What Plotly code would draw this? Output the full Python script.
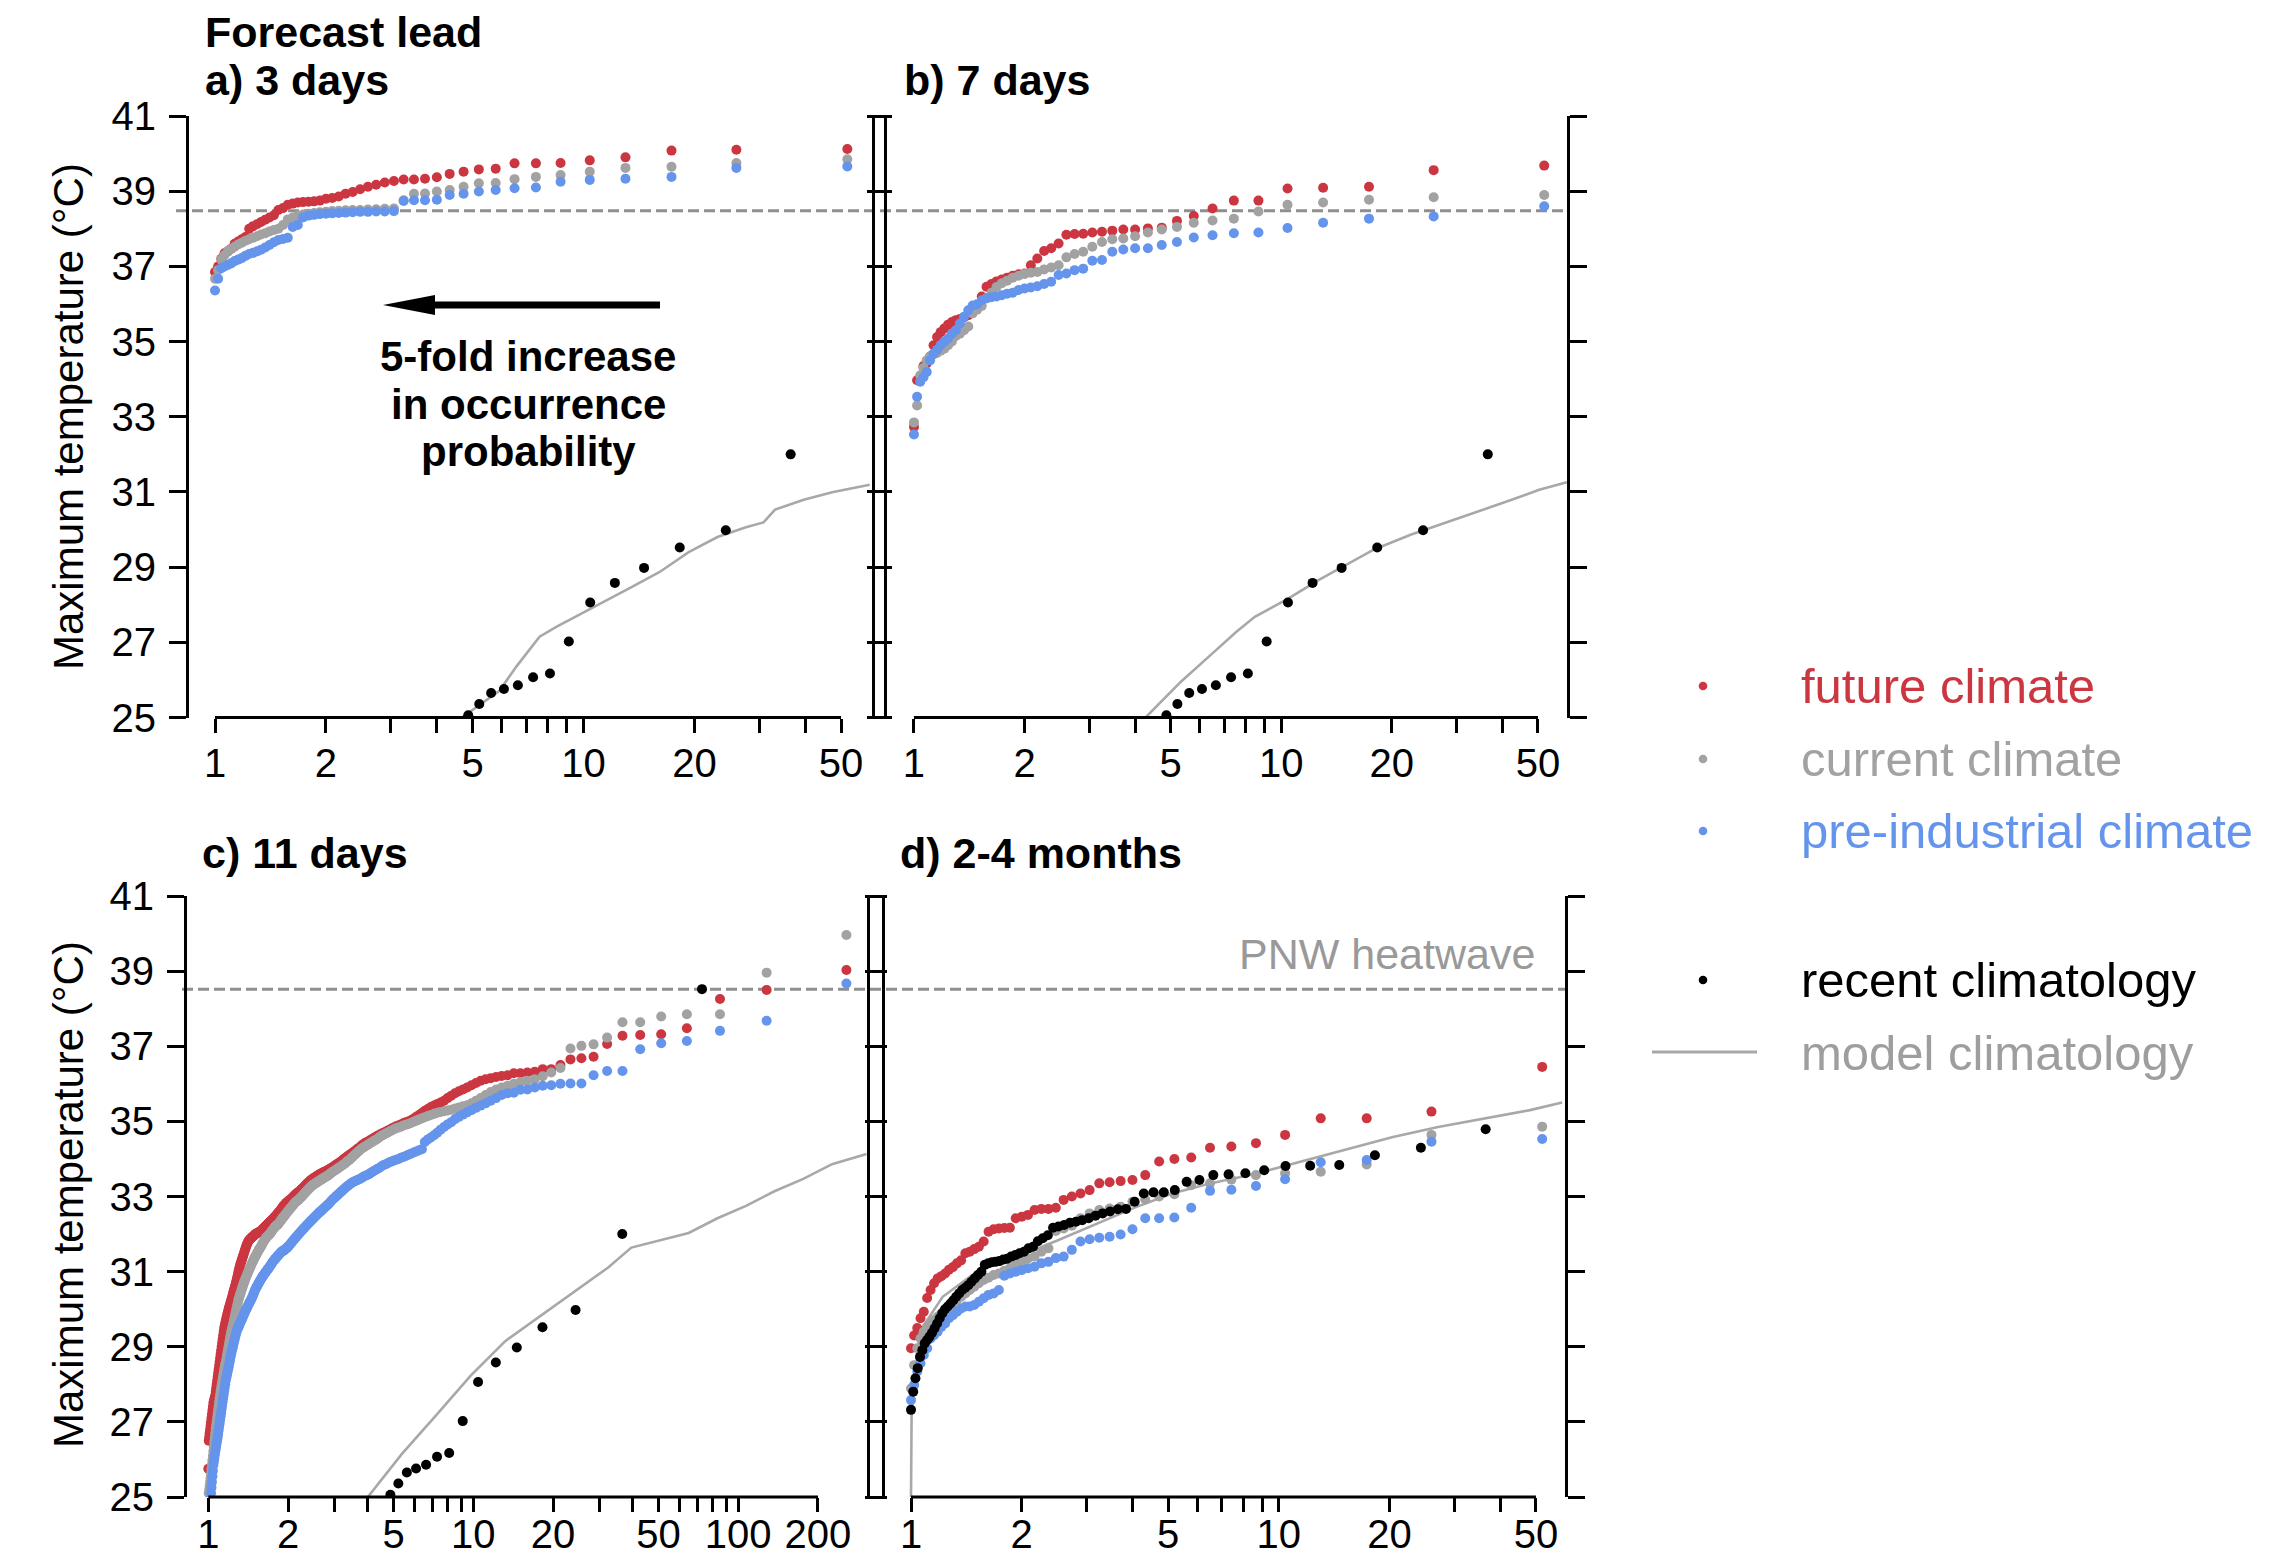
import math
import plotly.graph_objects as go

W, H = 2285, 1562

# ------------------------------------------------------------------
# DATA (sorted maxima, rank 1 = highest; return period = n / rank)
# ------------------------------------------------------------------
# a) 3 days lead  (52 members)
red_a = [40.12, 40.1, 40.08, 39.9, 39.82, 39.75, 39.74, 39.74, 39.6, 39.58,
         39.52, 39.46, 39.37, 39.33, 39.31, 39.31, 39.27, 39.23, 39.17, 39.12,
         39.05, 38.98, 38.93, 38.86, 38.82, 38.8, 38.75, 38.73, 38.72, 38.71,
         38.7, 38.67, 38.64, 38.55, 38.5, 38.36, 38.3, 38.24, 38.18, 38.12,
         38.07, 38.0, 37.78, 37.72, 37.66, 37.6, 37.47, 37.4, 37.35, 37.2,
         37.0, 36.85]
gray_a = [39.85, 39.75, 39.65, 39.62, 39.52, 39.43, 39.38, 39.32, 39.22, 39.21,
          39.12, 39.03, 38.99, 38.94, 38.93, 38.76, 38.54, 38.53, 38.52, 38.51,
          38.5, 38.5, 38.49, 38.48, 38.47, 38.45, 38.44, 38.42, 38.4, 38.38,
          38.35, 38.3, 38.25, 38.1, 38.0, 37.97, 37.93, 37.88, 37.85, 37.8,
          37.76, 37.72, 37.68, 37.63, 37.58, 37.52, 37.46, 37.4, 37.3, 37.18,
          36.9, 36.67]
blue_a = [39.66, 39.62, 39.38, 39.33, 39.3, 39.25, 39.1, 39.08, 39.03, 38.99,
          38.93, 38.9, 38.77, 38.76, 38.76, 38.74, 38.47, 38.46, 38.46, 38.45,
          38.45, 38.44, 38.43, 38.42, 38.41, 38.4, 38.39, 38.37, 38.35, 38.3,
          38.1, 38.05, 37.76, 37.73, 37.7, 37.64, 37.57, 37.5, 37.44, 37.4,
          37.36, 37.33, 37.28, 37.22, 37.18, 37.14, 37.08, 37.04, 37.0, 36.95,
          36.67, 36.36]

# b) 7 days lead
red_b = [39.68, 39.56, 39.12, 39.09, 39.07, 38.75, 38.75, 38.54, 38.34, 38.21,
         38.03, 38.01, 37.98, 37.98, 37.95, 37.92, 37.9, 37.87, 37.86, 37.84,
         37.61, 37.48, 37.41, 37.21, 37.03, 36.81, 36.79, 36.75, 36.7, 36.65,
         36.6, 36.53, 36.46, 36.2, 35.95, 35.8, 35.7, 35.65, 35.6, 35.57,
         35.52, 35.45, 35.35, 35.25, 35.12, 34.9, 34.6, 34.42, 34.35, 34.0,
         33.97, 32.73]
gray_b = [38.9, 38.84, 38.77, 38.7, 38.64, 38.46, 38.27, 38.22, 38.16, 38.05,
          37.98, 37.9, 37.8, 37.74, 37.72, 37.65, 37.52, 37.39, 37.33, 37.24,
          37.03, 36.97, 36.92, 36.85, 36.83, 36.8, 36.75, 36.7, 36.62, 36.55,
          36.45, 36.3, 36.15, 35.95, 35.85, 35.75, 35.4, 35.3, 35.21, 35.15,
          35.0, 34.9, 34.81, 34.76, 34.7, 34.66, 34.6, 34.5, 34.3, 34.1,
          33.3, 32.85]
blue_b = [38.6, 38.33, 38.27, 38.16, 38.02, 37.9, 37.88, 37.83, 37.77, 37.65,
          37.57, 37.48, 37.48, 37.45, 37.39, 37.17, 37.15, 36.94, 36.9, 36.81,
          36.77, 36.59, 36.53, 36.47, 36.44, 36.41, 36.37, 36.3, 36.27, 36.23,
          36.2, 36.18, 36.15, 36.1, 35.99, 35.96, 35.83, 35.66, 35.48, 35.3,
          35.21, 35.08, 35.0, 34.9, 34.78, 34.68, 34.5, 34.19, 34.05, 33.93,
          33.53, 32.53]

# c) 11 days lead (256 members)
red_c = [39.03, 38.5, 38.26, 37.48, 37.32, 37.3, 37.28, 37.06, 36.72, 36.68,
         36.65, 36.5, 36.39, 36.39, 36.32, 36.3, 36.28, 36.28, 36.23, 36.21,
         36.18, 36.15, 36.12, 36.08, 36.02, 35.96, 35.9, 35.85, 35.8, 35.75,
         35.68, 35.62, 35.55, 35.5, 35.46, 35.42, 35.38, 35.33, 35.28, 35.22,
         35.17, 35.12, 35.07, 35.03, 35.0, 34.98, 34.95, 34.92, 34.89, 34.87,
         34.84, 34.81, 34.78, 34.75, 34.72, 34.69, 34.67, 34.64, 34.61, 34.58,
         34.55, 34.52, 34.49, 34.46, 34.44, 34.41, 34.38, 34.34, 34.3, 34.27,
         34.23, 34.2, 34.17, 34.14, 34.11, 34.08, 34.05, 34.02, 33.99, 33.96,
         33.93, 33.9, 33.88, 33.85, 33.83, 33.8, 33.78, 33.76, 33.74, 33.71,
         33.7, 33.68, 33.66, 33.65, 33.63, 33.61, 33.6, 33.58, 33.56, 33.54,
         33.52, 33.5, 33.48, 33.46, 33.44, 33.41, 33.38, 33.36, 33.33, 33.3,
         33.27, 33.24, 33.22, 33.19, 33.16, 33.14, 33.12, 33.1, 33.07, 33.05,
         33.03, 33.0, 32.98, 32.95, 32.93, 32.91, 32.89, 32.87, 32.85, 32.83,
         32.8, 32.78, 32.75, 32.72, 32.69, 32.66, 32.63, 32.6, 32.58, 32.55,
         32.52, 32.5, 32.47, 32.45, 32.42, 32.4, 32.38, 32.36, 32.34, 32.32,
         32.3, 32.28, 32.26, 32.24, 32.22, 32.2, 32.18, 32.16, 32.14, 32.12,
         32.1, 32.08, 32.07, 32.06, 32.05, 32.04, 32.03, 32.02, 32.01, 32.0,
         31.98, 31.96, 31.95, 31.93, 31.92, 31.9, 31.88, 31.87, 31.85, 31.83,
         31.8, 31.76, 31.72, 31.68, 31.63, 31.58, 31.53, 31.48, 31.43, 31.38,
         31.33, 31.28, 31.23, 31.18, 31.12, 31.06, 31.0, 30.92, 30.85, 30.78,
         30.72, 30.66, 30.6, 30.55, 30.5, 30.45, 30.38, 30.33, 30.28, 30.23,
         30.18, 30.13, 30.08, 30.03, 29.98, 29.92, 29.86, 29.8, 29.75, 29.68,
         29.62, 29.55, 29.5, 29.4, 29.3, 29.2, 29.1, 29.0, 28.9, 28.8,
         28.7, 28.6, 28.5, 28.4, 28.3, 28.2, 28.1, 28.0, 27.9, 27.8,
         27.7, 27.65, 27.6, 27.55, 27.5, 27.4, 27.3, 27.2, 27.1, 27.0,
         26.9, 26.8, 26.7, 26.6, 26.5, 25.75]
gray_c = [39.96, 38.96, 37.85, 37.85, 37.79, 37.64, 37.64, 37.23, 37.05, 37.01,
          36.94, 36.42, 36.3, 36.2, 36.12, 36.08, 36.05, 36.0, 35.95, 35.9,
          35.85, 35.78, 35.7, 35.62, 35.55, 35.48, 35.43, 35.4, 35.37, 35.34,
          35.31, 35.29, 35.27, 35.25, 35.23, 35.2, 35.17, 35.14, 35.11, 35.08,
          35.05, 35.02, 34.99, 34.96, 34.93, 34.91, 34.89, 34.86, 34.84, 34.82,
          34.79, 34.76, 34.73, 34.7, 34.67, 34.64, 34.61, 34.57, 34.53, 34.5,
          34.47, 34.44, 34.41, 34.38, 34.35, 34.32, 34.29, 34.26, 34.22, 34.18,
          34.14, 34.1, 34.06, 34.02, 33.98, 33.95, 33.92, 33.88, 33.85, 33.83,
          33.8, 33.77, 33.75, 33.72, 33.7, 33.68, 33.65, 33.63, 33.6, 33.57,
          33.55, 33.53, 33.51, 33.49, 33.47, 33.45, 33.43, 33.41, 33.39, 33.37,
          33.35, 33.33, 33.31, 33.29, 33.26, 33.23, 33.2, 33.17, 33.14, 33.11,
          33.08, 33.05, 33.02, 32.99, 32.96, 32.94, 32.91, 32.89, 32.87, 32.85,
          32.82, 32.79, 32.76, 32.73, 32.7, 32.67, 32.64, 32.61, 32.58, 32.55,
          32.52, 32.49, 32.46, 32.43, 32.4, 32.37, 32.34, 32.31, 32.28, 32.25,
          32.24, 32.22, 32.2, 32.18, 32.15, 32.12, 32.09, 32.06, 32.03, 32.0,
          31.98, 31.96, 31.94, 31.92, 31.9, 31.87, 31.84, 31.81, 31.78, 31.74,
          31.7, 31.67, 31.64, 31.61, 31.58, 31.55, 31.51, 31.48, 31.44, 31.41,
          31.38, 31.34, 31.3, 31.27, 31.23, 31.19, 31.15, 31.11, 31.07, 31.03,
          30.99, 30.95, 30.91, 30.87, 30.83, 30.79, 30.74, 30.7, 30.65, 30.6,
          30.55, 30.5, 30.45, 30.4, 30.35, 30.3, 30.25, 30.18, 30.11, 30.04,
          29.97, 29.9, 29.83, 29.76, 29.69, 29.62, 29.56, 29.5, 29.44, 29.37,
          29.3, 29.22, 29.14, 29.06, 28.98, 28.9, 28.82, 28.74, 28.66, 28.58,
          28.54, 28.46, 28.38, 28.3, 28.22, 28.14, 28.06, 27.98, 27.9, 27.82,
          27.72, 27.62, 27.52, 27.42, 27.32, 27.22, 27.12, 27.02, 26.92, 26.82,
          26.7, 26.58, 26.46, 26.34, 26.22, 26.1, 25.98, 25.86, 25.74, 25.62,
          25.5, 25.4, 25.3, 25.2, 25.1, 24.9]
blue_c = [38.67, 37.68, 37.41, 37.14, 37.08, 36.92, 36.34, 36.34, 36.23, 36.01,
          36.01, 36.0, 35.96, 35.95, 35.9, 35.85, 35.84, 35.76, 35.75, 35.7,
          35.62, 35.55, 35.48, 35.42, 35.36, 35.3, 35.24, 35.18, 35.12, 35.06,
          34.98, 34.92, 34.85, 34.78, 34.7, 34.63, 34.57, 34.52, 34.45, 34.26,
          34.23, 34.2, 34.17, 34.14, 34.11, 34.08, 34.05, 34.03, 34.0, 33.98,
          33.96, 33.93, 33.91, 33.88, 33.85, 33.83, 33.8, 33.76, 33.73, 33.7,
          33.67, 33.64, 33.61, 33.58, 33.56, 33.54, 33.51, 33.48, 33.46, 33.44,
          33.42, 33.4, 33.38, 33.35, 33.32, 33.29, 33.26, 33.22, 33.19, 33.15,
          33.12, 33.08, 33.05, 33.02, 32.98, 32.95, 32.92, 32.88, 32.84, 32.8,
          32.77, 32.74, 32.71, 32.68, 32.65, 32.62, 32.59, 32.56, 32.53, 32.5,
          32.47, 32.44, 32.41, 32.38, 32.35, 32.32, 32.29, 32.26, 32.23, 32.2,
          32.17, 32.14, 32.11, 32.08, 32.05, 32.02, 31.99, 31.96, 31.93, 31.9,
          31.87, 31.84, 31.81, 31.78, 31.75, 31.72, 31.69, 31.66, 31.64, 31.62,
          31.6, 31.58, 31.56, 31.55, 31.54, 31.52, 31.49, 31.47, 31.44, 31.42,
          31.39, 31.37, 31.34, 31.32, 31.29, 31.27, 31.23, 31.2, 31.17, 31.14,
          31.11, 31.08, 31.06, 31.03, 31.0, 30.97, 30.95, 30.92, 30.89, 30.86,
          30.83, 30.8, 30.77, 30.73, 30.7, 30.67, 30.63, 30.6, 30.57, 30.53,
          30.49, 30.44, 30.4, 30.35, 30.31, 30.28, 30.24, 30.21, 30.17, 30.14,
          30.11, 30.07, 30.04, 30.0, 29.97, 29.93, 29.89, 29.86, 29.82, 29.78,
          29.74, 29.71, 29.67, 29.64, 29.6, 29.56, 29.53, 29.49, 29.46, 29.42,
          29.36, 29.3, 29.24, 29.18, 29.12, 29.05, 28.99, 28.93, 28.87, 28.8,
          28.73, 28.65, 28.58, 28.5, 28.43, 28.37, 28.3, 28.23, 28.17, 28.1,
          28.0, 27.91, 27.82, 27.73, 27.64, 27.54, 27.44, 27.34, 27.24, 27.15,
          27.06, 26.96, 26.87, 26.78, 26.68, 26.6, 26.52, 26.44, 26.36, 26.28,
          26.2, 26.11, 26.02, 25.94, 25.85, 25.7, 25.55, 25.4, 25.25, 25.1,
          24.95, 24.8, 24.65, 24.5, 24.35, 24.2]

# d) 2-4 months lead
red_d = [36.45, 35.26, 35.08, 35.08, 34.64, 34.42, 34.33, 34.3, 34.04, 34.0,
         33.93, 33.57, 33.44, 33.41, 33.38, 33.35, 33.17, 33.08, 33.0, 32.91,
         32.7, 32.67, 32.67, 32.64, 32.51, 32.46, 32.42, 32.17, 32.16, 32.15,
         32.13, 32.06, 31.8, 31.66, 31.6, 31.53, 31.49, 31.3, 31.22, 31.12,
         31.05, 30.95, 30.88, 30.82, 30.69, 30.51, 30.3, 29.93, 29.76, 29.5,
         29.3, 28.96]
gray_d = [34.86, 34.64, 33.85, 33.66, 33.62, 33.57, 33.45, 33.35, 33.3, 33.06,
          33.0, 32.92, 32.86, 32.73, 32.68, 32.64, 32.55, 32.42, 32.22, 32.15,
          32.08, 31.62, 31.53, 31.4, 31.35, 31.26, 31.19, 31.09, 31.02, 30.95,
          30.91, 30.84, 30.78, 30.69, 30.6, 30.51, 30.42, 30.33, 30.24, 30.15,
          30.07, 30.0, 29.89, 29.8, 29.71, 29.62, 29.53, 29.4, 29.22, 28.96,
          28.51, 27.89]
blue_d = [34.53, 34.46, 33.97, 33.91, 33.46, 33.28, 33.18, 33.15, 32.7, 32.44,
          32.42, 32.42, 32.13, 31.99, 31.93, 31.9, 31.86, 31.8, 31.58, 31.4,
          31.36, 31.26, 31.22, 31.13, 31.09, 31.04, 31.0, 30.95, 30.89, 30.51,
          30.42, 30.38, 30.29, 30.2, 30.11, 30.07, 30.07, 30.02, 29.93, 29.84,
          29.76, 29.62, 29.53, 29.4, 29.31, 29.22, 28.96, 28.78, 28.56, 28.34,
          27.98, 27.58]

# recent (observed) climatology, 72 years -> return period = 73 / rank
recent_years = 72
black_abc = [38.52, 32.0, 29.98, 29.52, 28.98, 28.58, 28.06, 27.02, 26.17, 26.07,
             25.86, 25.76, 25.65, 25.36, 25.06]
black_d = [38.5, 34.79, 34.3, 34.1, 33.84, 33.82, 33.81, 33.7, 33.62, 33.59, 33.57,
           33.44, 33.39, 33.17, 33.11, 33.11, 33.08, 32.86, 32.67, 32.66, 32.6,
           32.55, 32.49, 32.42, 32.37, 32.33, 32.3, 32.24, 32.2, 32.17, 31.97,
           31.89, 31.81, 31.66, 31.62, 31.53, 31.49, 31.44, 31.4, 31.34, 31.32,
           31.28, 31.26, 31.25, 31.22, 31.18, 31.0, 30.91, 30.82, 30.73, 30.64,
           30.57, 30.51, 30.42, 30.33, 30.24, 30.15, 30.07, 30.0, 29.89, 29.76,
           29.62, 29.49, 29.37, 29.27, 29.18, 29.09, 28.91, 28.73, 28.43, 28.16,
           27.8, 27.32]

# model climatology curves (return period, temperature)
model_a_rp = [4.68, 5.9, 6.58, 7.6, 8.46, 9.77, 11.3, 13.5, 16.1, 19.3, 23.1, 27.6, 30.8, 33.1, 39.6, 47.3, 59.8]
model_a_t = [25.0, 25.7, 26.36, 27.15, 27.42, 27.75, 28.08, 28.47, 28.87, 29.4, 29.8, 30.06, 30.19, 30.53, 30.79, 30.99, 31.19]
model_b_rp = [4.27, 5.34, 6.35, 7.55, 8.47, 10.36, 12.7, 15.1, 17.9, 22.5, 28.3, 35.7, 42.4, 50.4, 59.9]
model_b_t = [25.0, 25.96, 26.62, 27.28, 27.68, 28.14, 28.67, 29.07, 29.47, 29.86, 30.19, 30.53, 30.79, 31.06, 31.26]
model_c_rp = [4.0, 5.37, 7.25, 9.78, 13.2, 17.8, 24.0, 32.3, 39.5, 50.7, 65.0, 83.5, 107.0, 137.0, 176.0, 226.0, 305.0]
model_c_t = [25.0, 26.14, 27.18, 28.23, 29.15, 29.8, 30.46, 31.11, 31.64, 31.83, 32.03, 32.42, 32.75, 33.14, 33.47, 33.86, 34.13]
model_d_rp = [1.0, 1.0, 1.004, 1.056, 1.219, 1.534, 1.987, 2.5, 3.24, 4.07, 5.13, 6.45, 8.6, 11.46, 15.27, 20.3, 27.1, 36.1, 48.2, 58.9]
model_d_t = [25.0, 25.85, 27.3, 29.41, 30.33, 31.05, 31.44, 31.83, 32.29, 32.71, 33.08, 33.34, 33.6, 33.93, 34.26, 34.58, 34.85, 35.07, 35.3, 35.5]

heatwave_row1 = 38.48
heatwave_row2 = 38.52

ticks_50 = [1, 2, 3, 4, 5, 6, 7, 8, 9, 10, 20, 30, 40, 50]
labels_50 = ["1", "2", "", "", "5", "", "", "", "", "10", "20", "", "", "50"]
ticks_200 = [1, 2, 3, 4, 5, 6, 7, 8, 9, 10, 20, 30, 40, 50, 60, 70, 80, 90, 100, 200]
labels_200 = ["1", "2", "", "", "5", "", "", "", "", "10", "20", "", "", "50", "", "", "", "", "100", "200"]
y_ticks = [25, 27, 29, 31, 33, 35, 37, 39, 41]

# ------------------------------------------------------------------
RED = "#CB3641"
GRAY = "#A2A2A2"
BLUE = "#6494EC"
BLACK = "#000000"
MODEL = "#A8A8A8"
FONT = "Liberation Sans, Arial, Helvetica, sans-serif"


def rp(vals, n=None):
    n = len(vals) if n is None else n
    return [n / (i + 1) for i in range(len(vals))]


def px_x(v):
    return v / W


def px_y(v):
    return 1 - v / H


row1 = [px_y(717.5), px_y(116)]
row2 = [px_y(1497), px_y(896)]

panels = [
    dict(xa="x", ya="y", dom=[px_x(189), px_x(872)], ydom=row1, rng=[-0.0706, 1.783],
         red=red_a, gray=gray_a, blue=blue_a, black=black_abc, lab=True, so=-4,
         mx=model_a_rp, my=model_a_t, tv=ticks_50, tt=labels_50),
    dict(xa="x2", ya="y2", dom=[px_x(887), px_x(1567)], ydom=row1, rng=[-0.0735, 1.778],
         red=red_b, gray=gray_b, blue=blue_b, black=black_abc, lab=False, so=-4,
         mx=model_b_rp, my=model_b_t, tv=ticks_50, tt=labels_50),
    dict(xa="x3", ya="y3", dom=[px_x(187), px_x(867)], ydom=row2, rng=[-0.0804, 2.486],
         red=red_c, gray=gray_c, blue=blue_c, black=black_abc, lab=True, so=-12,
         mx=model_c_rp, my=model_c_t, tv=ticks_200, tt=labels_200),
    dict(xa="x4", ya="y4", dom=[px_x(885), px_x(1565)], ydom=row2, rng=[-0.0707, 1.778],
         red=red_d, gray=gray_d, blue=blue_d, black=black_d, lab=False, so=-12,
         mx=model_d_rp, my=model_d_t, tv=ticks_50, tt=labels_50),
]

fig = go.Figure()
layout = {}
shapes = []
MS = 10

for i, p in enumerate(panels):
    xa, ya = p["xa"], p["ya"]
    fig.add_trace(go.Scatter(x=p["mx"], y=p["my"], mode="lines", xaxis=xa, yaxis=ya,
                             line=dict(color=MODEL, width=2.6), hoverinfo="skip"))
    for vals, col in ((p["red"], RED), (p["gray"], GRAY), (p["blue"], BLUE)):
        fig.add_trace(go.Scatter(x=rp(vals), y=vals, mode="markers", xaxis=xa, yaxis=ya,
                                 marker=dict(color=col, size=MS, line=dict(width=0))))
    fig.add_trace(go.Scatter(x=rp(p["black"], recent_years + 1), y=p["black"], mode="markers",
                             xaxis=xa, yaxis=ya,
                             marker=dict(color=BLACK, size=MS, line=dict(width=0))))

    key_x = "xaxis" if i == 0 else f"xaxis{i + 1}"
    key_y = "yaxis" if i == 0 else f"yaxis{i + 1}"
    layout[key_x] = dict(domain=p["dom"], anchor=ya, type="log", range=p["rng"],
                         tickvals=p["tv"], ticktext=p["tt"], ticks="outside",
                         ticklen=14, tickwidth=3, tickcolor="black", showline=False,
                         showgrid=False, zeroline=False, ticklabelstandoff=p["so"],
                         automargin=False,
                         tickfont=dict(family=FONT, size=40, color="black"))
    layout[key_y] = dict(domain=p["ydom"], anchor=xa, range=[25, 41], tickvals=y_ticks,
                         ticks="outside", ticklen=17, tickwidth=3, tickcolor="black",
                         showline=True, linewidth=3, linecolor="black", mirror="ticks",
                         showgrid=False, zeroline=False, ticklabelstandoff=5,
                         showticklabels=p["lab"], automargin=False,
                         tickfont=dict(family=FONT, size=40, color="black"))
    # R-style bottom axis line spanning first to last tick
    r0, r1 = p["rng"]
    f0 = (math.log10(p["tv"][0]) - r0) / (r1 - r0)
    f1 = (math.log10(p["tv"][-1]) - r0) / (r1 - r0)
    shapes.append(dict(type="line", xref=f"{xa} domain", yref=f"{ya} domain",
                       x0=f0, x1=f1, y0=0, y1=0, line=dict(color="black", width=3)))

# heatwave dashed lines across both panels of each row
shapes.append(dict(type="line", xref="paper", yref="y", x0=px_x(176), x1=px_x(1567),
                   y0=heatwave_row1, y1=heatwave_row1, layer="below",
                   line=dict(color="#8E8E8E", width=3, dash="11px,5px")))
shapes.append(dict(type="line", xref="paper", yref="y3", x0=px_x(182), x1=px_x(1567),
                   y0=heatwave_row2, y1=heatwave_row2, layer="below",
                   line=dict(color="#8E8E8E", width=3, dash="11px,5px")))

# arrow (panel a)
ay = 305
shapes.append(dict(type="line", xref="paper", yref="paper", x0=px_x(660), x1=px_x(425),
                   y0=px_y(ay), y1=px_y(ay), line=dict(color="black", width=7)))
shapes.append(dict(type="path", xref="paper", yref="paper",
                   path=f"M {px_x(383)},{px_y(ay)} L {px_x(435)},{px_y(ay - 10)} "
                        f"L {px_x(435)},{px_y(ay + 10)} Z",
                   fillcolor="black", line=dict(width=0)))

# legend
leg = [("future climate", RED, 686, "dot"), ("current climate", GRAY, 759, "dot"),
       ("pre-industrial climate", BLUE, 831, "dot"), ("recent climatology", BLACK, 980, "dot"),
       ("model climatology", "#9E9E9E", 1053, "line")]
ann = []
for text, col, cy, kind in leg:
    if kind == "dot":
        r = 4.3
        shapes.append(dict(type="circle", xref="paper", yref="paper",
                           x0=px_x(1703 - r), x1=px_x(1703 + r), y0=px_y(cy + r), y1=px_y(cy - r),
                           fillcolor=col, line=dict(width=0)))
    else:
        shapes.append(dict(type="line", xref="paper", yref="paper", x0=px_x(1652), x1=px_x(1757),
                           y0=px_y(cy - 1), y1=px_y(cy - 1), line=dict(color=MODEL, width=2.8)))
    ann.append(dict(text=text, x=px_x(1799), y=px_y(cy), xref="paper", yref="paper",
                    xanchor="left", yanchor="middle", showarrow=False,
                    font=dict(family=FONT, size=49, color=col)))


# titles & labels
def label(text, x, y, size, bold=False, color="black", xanchor="left", angle=0):
    ann.append(dict(text=f"<b>{text}</b>" if bold else text, x=px_x(x), y=px_y(y),
                    xref="paper", yref="paper", xanchor=xanchor, yanchor="middle",
                    showarrow=False, textangle=angle,
                    font=dict(family=FONT, size=size, color=color)))


label("Forecast lead", 203, 32, 43, bold=True)
label("a) 3 days", 203, 80, 43, bold=True)
label("b) 7 days", 902, 80, 43, bold=True)
label("c) 11 days", 200, 853, 43, bold=True)
label("d) 2-4 months", 898, 853, 43, bold=True)
label("Maximum temperature (°C)", 68, 417, 42, xanchor="center", angle=-90)
label("Maximum temperature (°C)", 68, 1195, 42, xanchor="center", angle=-90)
label("5-fold increase", 528, 357, 42, bold=True, xanchor="center")
label("in occurrence", 528, 404, 42, bold=True, xanchor="center")
label("probability", 528, 451, 42, bold=True, xanchor="center")
label("PNW heatwave", 1537, 954, 43, color="#999999", xanchor="right")

fig.update_layout(template="none", width=W, height=H, autosize=False,
                  margin=dict(l=0, r=0, t=0, b=0, pad=0),
                  paper_bgcolor="white", plot_bgcolor="white", showlegend=False,
                  font=dict(family=FONT, color="black"), shapes=shapes, annotations=ann, **layout)

fig.write_html("out.html", config={"displayModeBar": False},
               post_script="document.body.style.margin='0';document.body.style.overflow='hidden';")
